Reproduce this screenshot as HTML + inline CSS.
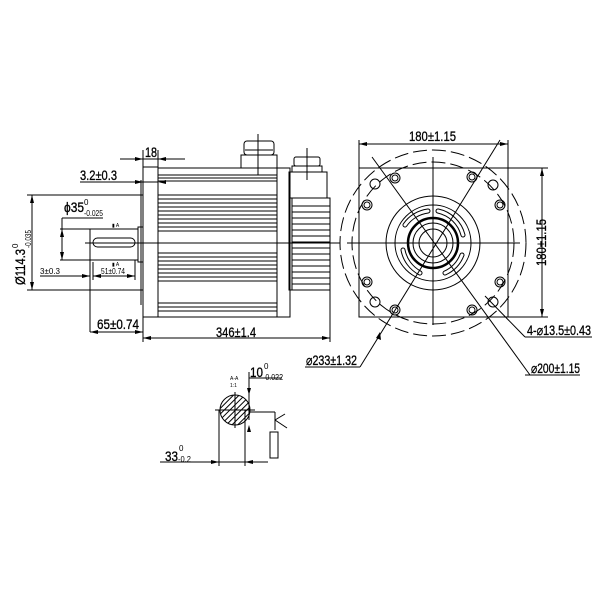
<!DOCTYPE html>
<html><head><meta charset="utf-8"><style>
html,body{margin:0;padding:0;background:#fff}
svg{display:block}
text{font-family:"Liberation Sans",sans-serif;fill:#000}
</style></head><body>
<svg width="600" height="600" viewBox="0 0 600 600" xmlns="http://www.w3.org/2000/svg">
<g stroke="#000" stroke-width="1" fill="none">
<rect x="143" y="167" width="15" height="150"/>
<line x1="141" y1="180" x2="141" y2="305"/>
<rect x="158" y="168" width="119" height="149"/>
<rect x="277" y="168" width="13" height="149"/>
<rect x="241" y="155" width="36" height="13"/>
<rect x="244" y="141" width="30" height="14" rx="3"/>
<line x1="245" y1="150" x2="273" y2="150"/>
<line x1="258" y1="134" x2="258" y2="175"/>
<rect x="292" y="166" width="30" height="6"/>
<rect x="294" y="157" width="26" height="9" rx="2"/>
<line x1="307" y1="148" x2="307" y2="180"/>
<rect x="289" y="172" width="38" height="26"/>
<rect x="289" y="198" width="41" height="92"/>
<line x1="292" y1="198" x2="292" y2="290"/>
<line x1="90" y1="229" x2="138" y2="229"/>
<line x1="90" y1="260" x2="138" y2="260"/>
<rect x="138" y="227" width="5" height="35"/>
<rect x="93" y="238" width="42" height="9" rx="4.5"/>
<line x1="90" y1="229" x2="90" y2="332"/>
<line x1="85" y1="243" x2="340" y2="243"/>
<line x1="27" y1="195" x2="143" y2="195"/>
<line x1="27" y1="290" x2="143" y2="290"/>
<line x1="32" y1="195" x2="32" y2="290"/>
<line x1="62" y1="218" x2="103" y2="218"/>
<line x1="62" y1="218" x2="62" y2="260"/>
<line x1="60" y1="229" x2="90" y2="229"/>
<line x1="60" y1="260" x2="90" y2="260"/>
<line x1="40" y1="276" x2="90" y2="276"/>
<line x1="93" y1="276" x2="135" y2="276"/>
<line x1="135" y1="260" x2="135" y2="280"/>
<line x1="93" y1="262" x2="93" y2="280"/>
<line x1="80" y1="182" x2="158" y2="182"/>
<line x1="120" y1="159" x2="185" y2="159"/>
<line x1="143" y1="150" x2="143" y2="167"/>
<line x1="158" y1="150" x2="158" y2="167"/>
<line x1="90" y1="332" x2="143" y2="332"/>
<line x1="143" y1="317" x2="143" y2="342"/>
<line x1="143" y1="338" x2="330" y2="338"/>
<line x1="330" y1="290" x2="330" y2="342"/>
</g>
<g stroke="#000" stroke-width="0.9">
<line x1="158" y1="175" x2="277" y2="175"/><line x1="158" y1="178" x2="277" y2="178"/><line x1="158" y1="181" x2="277" y2="181"/>
<line x1="158" y1="195" x2="277" y2="195"/><line x1="158" y1="199" x2="277" y2="199"/><line x1="158" y1="203" x2="277" y2="203"/><line x1="158" y1="207" x2="277" y2="207"/><line x1="158" y1="211" x2="277" y2="211"/><line x1="158" y1="215" x2="277" y2="215"/><line x1="158" y1="219" x2="277" y2="219"/><line x1="158" y1="223" x2="277" y2="223"/><line x1="158" y1="227" x2="277" y2="227"/><line x1="158" y1="231" x2="277" y2="231"/>
<line x1="158" y1="253" x2="277" y2="253"/><line x1="158" y1="257" x2="277" y2="257"/><line x1="158" y1="261" x2="277" y2="261"/><line x1="158" y1="265" x2="277" y2="265"/><line x1="158" y1="269" x2="277" y2="269"/><line x1="158" y1="273" x2="277" y2="273"/><line x1="158" y1="277" x2="277" y2="277"/><line x1="158" y1="281" x2="277" y2="281"/>
<line x1="158" y1="303" x2="277" y2="303"/><line x1="158" y1="307" x2="277" y2="307"/><line x1="158" y1="311" x2="277" y2="311"/>
<line x1="292" y1="206" x2="330" y2="206"/><line x1="292" y1="212" x2="330" y2="212"/><line x1="292" y1="218" x2="330" y2="218"/><line x1="292" y1="224" x2="330" y2="224"/><line x1="292" y1="230" x2="330" y2="230"/><line x1="292" y1="236" x2="330" y2="236"/><line x1="292" y1="242" x2="330" y2="242"/><line x1="292" y1="248" x2="330" y2="248"/><line x1="292" y1="254" x2="330" y2="254"/><line x1="292" y1="260" x2="330" y2="260"/><line x1="292" y1="266" x2="330" y2="266"/><line x1="292" y1="272" x2="330" y2="272"/><line x1="292" y1="278" x2="330" y2="278"/><line x1="292" y1="284" x2="330" y2="284"/>
</g>
<g fill="#000">
<polygon points="143,182 135,180 135,184"/><polygon points="158,182 166,180 166,184"/>
<polygon points="143,159 135,157 135,161"/><polygon points="158,159 166,157 166,161"/>
<polygon points="32,195 30,203 34,203"/><polygon points="32,290 30,282 34,282"/>
<polygon points="62,229 60,237 64,237"/><polygon points="62,260 60,252 64,252"/>
<polygon points="90,332 98,330 98,334"/><polygon points="143,332 135,330 135,334"/>
<polygon points="143,338 151,336 151,340"/><polygon points="330,338 322,336 322,340"/>
<polygon points="90,276 82,274 82,278"/><polygon points="93,276 101,274 101,278"/><polygon points="135,276 127,274 127,278"/>
</g>
<g font-size="14" stroke="#000" stroke-width="0.3">
<text x="80" y="180" textLength="37" lengthAdjust="spacingAndGlyphs">3.2±0.3</text>
<text x="145" y="157" textLength="12" lengthAdjust="spacingAndGlyphs">18</text>
<text x="64" y="212" textLength="20" lengthAdjust="spacingAndGlyphs">ϕ35</text>
<text x="97" y="329" textLength="42" lengthAdjust="spacingAndGlyphs">65±0.74</text>
<text x="216" y="337" textLength="40" lengthAdjust="spacingAndGlyphs">346±1.4</text>
<text transform="translate(25,285) rotate(-90)" textLength="36" lengthAdjust="spacingAndGlyphs">Ø114.3</text>
</g>
<g font-size="8">
<text x="84" y="205">0</text><text x="84" y="216" textLength="19" lengthAdjust="spacingAndGlyphs">-0.025</text>
<text transform="translate(18,248) rotate(-90)">0</text>
<text transform="translate(31,248) rotate(-90)" textLength="18" lengthAdjust="spacingAndGlyphs">-0.035</text>
<text x="40" y="274" textLength="20" lengthAdjust="spacingAndGlyphs">3±0.3</text>
<text x="101" y="274" textLength="24" lengthAdjust="spacingAndGlyphs">51±0.74</text>
<text x="112" y="227" font-size="5">▮ A</text>
<text x="112" y="266" font-size="5">▮ A</text>
</g>
<g stroke="#000" stroke-width="1" fill="none">
<rect x="359" y="168" width="149" height="149"/>
<circle cx="433" cy="243" r="93" stroke-dasharray="14,5"/>
<circle cx="433" cy="243" r="81" stroke-dasharray="14,5"/>
<circle cx="433" cy="243" r="47"/>
<circle cx="433" cy="243" r="38"/>
<circle cx="433" cy="243" r="25" stroke-width="2.5"/>
<circle cx="433" cy="243" r="20"/>
<circle cx="433" cy="243" r="14"/>
<path d="M 405 225 A 33 33 0 0 1 428 211 M 438 211 A 33 33 0 0 1 463 235 M 462 255 A 33 33 0 0 1 445 273 M 420 273 A 33 33 0 0 1 403 250" stroke-width="5" stroke-linecap="round"/>
<path d="M 405 225 A 33 33 0 0 1 428 211 M 438 211 A 33 33 0 0 1 463 235 M 462 255 A 33 33 0 0 1 445 273 M 420 273 A 33 33 0 0 1 403 250" stroke-width="3" stroke="#fff" stroke-linecap="round"/>
<line x1="347" y1="243" x2="520" y2="243"/>
<line x1="433" y1="157" x2="433" y2="325"/>
<line x1="372" y1="157" x2="530" y2="375"/>
<line x1="500" y1="140" x2="360" y2="367"/>
<line x1="305" y1="367" x2="360" y2="367"/>
<line x1="525" y1="375" x2="580" y2="375"/>
<line x1="525" y1="337" x2="592" y2="337"/>
<line x1="525" y1="337" x2="485" y2="296"/>
<line x1="359" y1="140" x2="359" y2="168"/><line x1="508" y1="140" x2="508" y2="168"/>
<line x1="359" y1="144" x2="508" y2="144"/>
<line x1="508" y1="168" x2="548" y2="168"/><line x1="508" y1="317" x2="548" y2="317"/>
<line x1="542" y1="168" x2="542" y2="317"/>
</g>
<g stroke="#000" fill="none" stroke-width="1">
<circle cx="395" cy="178" r="5"/><circle cx="395" cy="178" r="3"/>
<circle cx="472" cy="177" r="5"/><circle cx="472" cy="177" r="3"/>
<circle cx="395" cy="310" r="5"/><circle cx="395" cy="310" r="3"/>
<circle cx="472" cy="310" r="5"/><circle cx="472" cy="310" r="3"/>
<circle cx="367" cy="205" r="5"/><circle cx="367" cy="205" r="3"/>
<circle cx="500" cy="205" r="5"/><circle cx="500" cy="205" r="3"/>
<circle cx="367" cy="282" r="5"/><circle cx="367" cy="282" r="3"/>
<circle cx="500" cy="282" r="5"/><circle cx="500" cy="282" r="3"/>
<circle cx="375" cy="184" r="5"/><circle cx="493" cy="185" r="5"/>
<circle cx="375" cy="302" r="5"/><circle cx="493" cy="302" r="5"/>
</g>
<g fill="#000">
<polygon points="359,144 367,142 367,146"/><polygon points="508,144 500,142 500,146"/>
<polygon points="542,168 540,176 544,176"/><polygon points="542,317 540,309 544,309"/>
<polygon points="380,332 376,338 381,340"/>
</g>
<g font-size="14" stroke="#000" stroke-width="0.3">
<text x="409" y="141" textLength="47" lengthAdjust="spacingAndGlyphs">180±1.15</text>
<text transform="translate(546,266) rotate(-90)" textLength="47" lengthAdjust="spacingAndGlyphs">180±1.15</text>
<text x="527" y="335" textLength="64" lengthAdjust="spacingAndGlyphs">4-⌀13.5±0.43</text>
<text x="531" y="373" textLength="49" lengthAdjust="spacingAndGlyphs">⌀200±1.15</text>
<text x="306" y="365" textLength="51" lengthAdjust="spacingAndGlyphs">⌀233±1.32</text>
</g>
<defs><pattern id="h" width="4" height="4" patternUnits="userSpaceOnUse" patternTransform="rotate(45)"><rect width="4" height="4" fill="#fff"/><line x1="0" y1="0" x2="0" y2="4" stroke="#000" stroke-width="2"/></pattern></defs>
<g stroke="#000" fill="none" stroke-width="1">
<circle cx="235" cy="410" r="15" fill="url(#h)"/>
<line x1="215" y1="410" x2="255" y2="410"/>
<line x1="235" y1="392" x2="235" y2="428"/>
<line x1="219" y1="410" x2="219" y2="466"/>
<line x1="245" y1="410" x2="245" y2="466"/>
<line x1="160" y1="462" x2="268" y2="462"/>
<line x1="249" y1="372" x2="249" y2="420"/>
<line x1="249" y1="378" x2="282" y2="378"/>
<line x1="249" y1="412" x2="275" y2="412"/>
<line x1="275" y1="412" x2="275" y2="430"/>
<line x1="275" y1="420" x2="287" y2="428"/>
<line x1="275" y1="420" x2="285" y2="414"/>
<rect x="270" y="432" width="8" height="26"/>
</g>
<g fill="#000">
<polygon points="219,462 211,460 211,464"/><polygon points="245,462 253,460 253,464"/>
<polygon points="249,395 247,388 251,388"/><polygon points="249,425 247,432 251,432"/>
</g>
<g font-size="14" stroke="#000" stroke-width="0.3">
<text x="250" y="377" textLength="13" lengthAdjust="spacingAndGlyphs">10</text>
<text x="165" y="461" textLength="13" lengthAdjust="spacingAndGlyphs">33</text>
</g>
<g font-size="8">
<text x="264" y="369">0</text><text x="263" y="380" textLength="20" lengthAdjust="spacingAndGlyphs">-0.022</text>
<text x="179" y="451">0</text><text x="178" y="462" textLength="13" lengthAdjust="spacingAndGlyphs">-0.2</text>
</g>
<text x="230" y="380" font-size="5">A-A</text>
<text x="230" y="387" font-size="5">1:1</text>
</svg>
</body></html>
